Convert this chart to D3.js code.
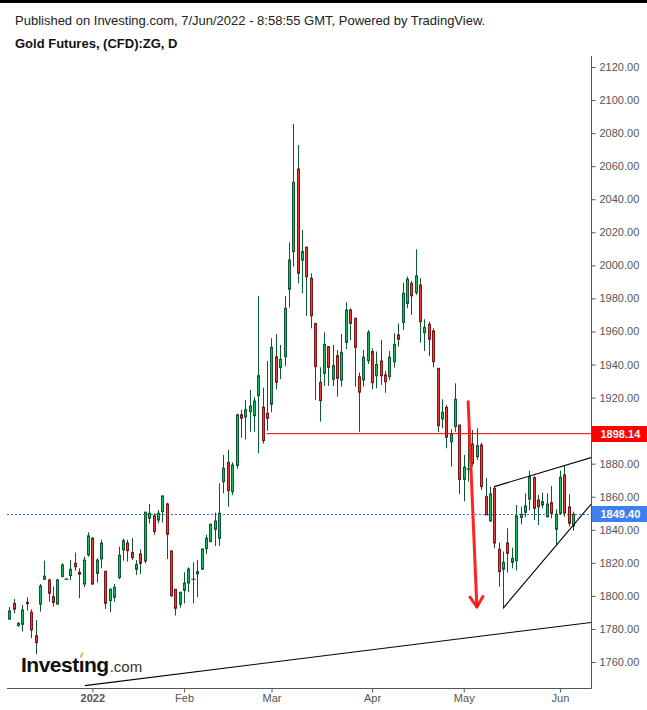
<!DOCTYPE html>
<html><head><meta charset="utf-8">
<script src="https://cdn.jsdelivr.net/npm/d3@7"></script>
<style>
body{margin:0;background:#fff}
svg{display:block}
text{font-family:Arial,"Liberation Sans",Helvetica,sans-serif}
</style>
</head><body>
<svg id="c" width="647" height="710"></svg>
<script>
// ---- data (daily OHLC, Gold Futures CFD, 7 Dec 2021 .. 6 Jun 2022) ----
const openP = [1786.0,1795.5,1782.0,1782.8,1796.1,1790.1,1775.9,1795.0,1810.1,1809.6,
1799.5,1795.0,1811.7,1810.1,1812.3,1819.7,1814.3,1807.2,1824.8,1834.9,
1813.6,1822.4,1814.9,1797.1,1799.2,1811.1,1827.8,1832.0,1826.2,1816.1,
1825.4,1821.1,1847.0,1848.4,1845.9,1851.0,1855.6,1827.2,1804.0,1795.0,
1803.3,1807.8,1810.1,1813.3,1816.1,1828.6,1832.8,1840.3,1834.9,1869.1,
1880.8,1863.1,1879.0,1909.6,1908.2,1911.5,1909.0,1921.1,1914.1,1910.5,
1915.9,1944.7,1938.3,1944.7,1985.5,2008.3,2058.3,2003.2,2011.0,1992.2,
1964.9,1929.2,1934.7,1950.8,1931.1,1945.3,1930.6,1953.4,1973.0,1968.0,
1932.5,1930.6,1942.3,1947.8,1933.2,1942.1,1933.7,1932.7,1941.7,1957.9,
1965.4,1977.0,1989.1,1983.5,1988.1,1959.3,1964.3,1960.3,1937.7,1907.1,
1914.1,1893.3,1902.4,1903.4,1870.5,1876.7,1891.9,1884.2,1891.3,1860.0,
1845.3,1865.1,1828.2,1816.1,1832.0,1820.3,1821.3,1847.4,1850.6,1858.6,
1871.5,1858.0,1855.0,1847.9,1856.4,1840.3,1850.0,1873.2,1853.8,1842.3];
const highP = [1793.3,1798.1,1784.2,1794.5,1799.2,1791.9,1785.4,1807.2,1821.3,1810.4,
1805.6,1810.4,1819.7,1810.6,1821.7,1826.2,1816.7,1823.7,1838.5,1835.5,
1822.7,1834.0,1814.9,1804.6,1807.2,1829.8,1834.6,1834.0,1835.0,1821.7,
1828.2,1851.0,1855.6,1850.0,1852.0,1860.5,1856.4,1827.2,1804.0,1802.2,
1814.3,1817.3,1820.3,1821.7,1828.4,1836.9,1843.4,1850.4,1868.1,1885.3,
1888.3,1880.8,1910.2,1912.6,1918.5,1924.6,1920.2,1981.5,1926.0,1942.1,
1955.9,1958.4,1951.8,1981.5,2013.9,2085.5,2072.8,2021.4,2011.0,1995.2,
1964.9,1938.3,1959.5,1950.8,1951.8,1948.8,1958.4,1977.6,1974.0,1968.0,
1935.1,1948.8,1960.9,1949.8,1947.8,1954.8,1936.1,1948.2,1958.9,1964.9,
1989.5,1993.1,1990.5,2009.7,1992.2,1967.4,1965.9,1961.9,1937.7,1918.9,
1915.5,1900.8,1928.6,1903.4,1885.3,1901.4,1900.4,1901.4,1892.7,1871.5,
1866.1,1866.5,1832.2,1826.8,1840.9,1829.2,1855.0,1854.0,1862.1,1875.8,
1872.6,1861.1,1862.5,1862.1,1866.5,1852.4,1875.8,1878.6,1861.5,1851.0];
const lowP = [1785.4,1789.5,1781.4,1778.4,1791.1,1774.4,1764.7,1790.5,1809.6,1796.5,
1793.5,1795.0,1811.3,1809.6,1809.6,1815.3,1798.6,1805.3,1823.7,1806.6,
1808.0,1816.7,1792.1,1790.1,1796.5,1810.1,1821.3,1820.7,1821.7,1812.7,
1813.3,1819.7,1843.9,1836.9,1843.9,1844.3,1822.3,1799.5,1788.1,1792.9,
1795.5,1802.2,1795.5,1799.2,1816.1,1825.2,1832.8,1830.2,1830.2,1862.1,
1854.0,1861.0,1877.0,1895.6,1894.6,1899.3,1899.3,1886.3,1892.2,1899.9,
1911.1,1925.0,1931.1,1939.1,1974.4,1999.2,1989.1,1983.1,1969.5,1961.9,
1918.5,1905.4,1927.0,1927.0,1927.0,1920.5,1926.6,1949.3,1954.8,1926.6,
1899.3,1926.6,1940.3,1925.0,1925.6,1927.6,1922.9,1930.6,1938.1,1950.8,
1960.9,1974.0,1970.0,1982.1,1953.2,1948.2,1945.0,1938.3,1899.0,1901.4,
1889.3,1878.2,1899.3,1861.5,1857.2,1869.1,1878.2,1882.2,1864.1,1849.0,
1844.9,1828.8,1805.6,1792.5,1814.1,1816.7,1815.3,1843.3,1847.6,1851.9,
1845.9,1842.9,1853.0,1847.3,1847.0,1831.0,1849.0,1848.0,1841.9,1839.5];
const closeP = [1790.9,1791.9,1783.4,1791.5,1795.3,1779.4,1771.7,1806.0,1811.9,1801.6,
1796.1,1809.6,1818.7,1810.1,1816.1,1817.7,1813.1,1821.7,1836.3,1807.2,
1821.7,1832.0,1795.5,1804.0,1805.2,1824.6,1833.4,1827.4,1823.1,1819.1,
1819.7,1850.6,1850.0,1838.9,1850.0,1860.5,1837.3,1800.1,1792.5,1802.2,
1807.8,1816.3,1810.1,1814.7,1828.4,1834.9,1843.4,1845.3,1850.0,1877.2,
1863.7,1879.2,1909.6,1907.5,1912.6,1914.9,1917.9,1933.2,1894.0,1907.5,
1950.4,1929.2,1943.1,1974.0,2003.2,2050.2,1995.2,2008.3,1993.1,1969.5,
1938.7,1918.2,1952.2,1938.3,1939.3,1931.7,1947.4,1973.0,1964.9,1950.4,
1923.3,1944.4,1959.5,1929.0,1940.1,1933.2,1929.6,1944.4,1952.2,1955.3,
1983.1,1991.6,1981.6,1993.6,1965.9,1962.5,1955.3,1941.7,1903.0,1911.1,
1896.0,1897.8,1918.9,1870.5,1877.9,1876.7,1880.2,1890.9,1866.1,1849.0,
1861.7,1832.0,1814.7,1820.3,1825.8,1822.7,1848.4,1849.4,1854.4,1872.1,
1853.0,1854.0,1857.0,1855.6,1850.0,1849.4,1871.8,1850.2,1843.9,1849.4];

const priceTicks = [1760,1780,1800,1820,1840,1860,1880,1900,1920,1940,1960,1980,2000,2020,2040,2060,2080,2100,2120];
const monthLabels = ["2022","Feb","Mar","Apr","May","Jun"];
const supportLevel = 1898.14;       // horizontal line + red tag
const supportStart = 59.85;         // bar index where the line starts
const lastPrice = 1849.40;          // blue dashed line + tag
// drawn lines as [bar index, price] pairs
const trendLines = [
  [[18.3, 1745.7], [134.3, 1784.0]],
  [[112, 1866.1], [134.3, 1883.8]],
  [[114, 1792.5], [134.3, 1856.0]]
];
const arrowPts = [[106, 1917.5], [108, 1793.3]];

// ---- layout ----
const svg = d3.select("#c");
const plot = {left: 7, right: 591, top: 56, bottom: 688};
const n = closeP.length;

// trading days (weekdays) for the bar index
const dates = [];
for (let d = new Date(2021, 11, 7); dates.length < n; d = d3.timeDay.offset(d, 1)) {
  if (d.getDay() % 6 !== 0) dates.push(new Date(d));
}
const x = d3.scaleLinear().domain([1, n]).range([9.3, 573.0]);
const y = d3.scaleLinear().domain([1760, 2120]).range([662, 67]);

svg.append("rect").attr("width", 647).attr("height", 710).attr("fill", "#fff");
svg.append("rect").attr("width", 647).attr("height", 3).attr("fill", "#000");

// header
svg.append("text").attr("x", 15).attr("y", 25).attr("font-size", 13).attr("fill", "#222")
  .text("Published on Investing.com, 7/Jun/2022 - 8:58:55 GMT, Powered by TradingView.");
svg.append("text").attr("x", 15).attr("y", 47.5).attr("font-size", 13).attr("font-weight", "bold").attr("fill", "#111")
  .text("Gold Futures, (CFD):ZG, D");

svg.append("defs").append("clipPath").attr("id", "pc").append("rect")
  .attr("x", plot.left).attr("y", plot.top)
  .attr("width", plot.right - plot.left).attr("height", plot.bottom - plot.top);

const g = svg.append("g").attr("clip-path", "url(#pc)");

// last price dashed line
const yLast = Math.round(y(lastPrice)) + 0.5;
g.append("line").attr("x1", plot.left).attr("x2", plot.right)
  .attr("y1", yLast).attr("y2", yLast)
  .attr("stroke", "#2f6fea").attr("stroke-width", 1).attr("stroke-dasharray", "2,2");

// candles
const bars = d3.range(n).map(i => ({i: i + 1, o: openP[i], h: highP[i], l: lowP[i], c: closeP[i]}));
const wickCol = "#0b5a34";
const cg = g.append("g");
bars.forEach(b => {
  const X = Math.round(x(b.i)) - 1;
  cg.append("line").attr("x1", X + 1.5).attr("x2", X + 1.5)
    .attr("y1", y(b.h)).attr("y2", y(b.l)).attr("stroke", wickCol).attr("stroke-width", 1);
  if (b.o === b.c) {
    cg.append("line").attr("x1", X - 0.5).attr("x2", X + 3.5)
      .attr("y1", y(b.c)).attr("y2", y(b.c)).attr("stroke", wickCol).attr("stroke-width", 1.2);
  } else {
    const up = b.c > b.o;
    const top = y(Math.max(b.o, b.c)), bot = y(Math.min(b.o, b.c));
    cg.append("rect").attr("x", X + 0.5).attr("width", 2)
      .attr("y", top).attr("height", Math.max(1, bot - top))
      .attr("fill", up ? "#12bf5e" : "#e5403a")
      .attr("stroke", up ? "#0b5a34" : "#7c1616").attr("stroke-width", 1);
  }
});

// support horizontal line
const ySup = y(supportLevel);
g.append("line").attr("x1", x(supportStart)).attr("x2", plot.right)
  .attr("y1", ySup).attr("y2", ySup).attr("stroke", "#e00000").attr("stroke-width", 1);

// trend lines
const line = d3.line().x(p => x(p[0])).y(p => y(p[1]));
trendLines.forEach(t => {
  g.append("path").attr("d", line(t)).attr("fill", "none")
    .attr("stroke", "#000").attr("stroke-width", 1.1);
});

// red arrow
const a0 = [x(arrowPts[0][0]), y(arrowPts[0][1])];
const a1 = [x(arrowPts[1][0]), y(arrowPts[1][1])];
g.append("path").attr("d", line(arrowPts)).attr("fill", "none")
  .attr("stroke", "#ff1010").attr("stroke-width", 3).attr("stroke-linecap", "round").attr("opacity", 0.92);
const ang = Math.atan2(a1[1] - a0[1], a1[0] - a0[0]);
const headLen = 12, spread = Math.PI / 5.5;
const h1 = [a1[0] - headLen * Math.cos(ang - spread), a1[1] - headLen * Math.sin(ang - spread)];
const h2 = [a1[0] - headLen * Math.cos(ang + spread), a1[1] - headLen * Math.sin(ang + spread)];
g.append("path").attr("d", d3.line()([h1, a1, h2])).attr("fill", "none")
  .attr("stroke", "#ff1010").attr("stroke-width", 3).attr("stroke-linecap", "round").attr("stroke-linejoin", "round").attr("opacity", 0.92);

// axes
const axCol = "#555";
svg.append("line").attr("x1", plot.right + 0.5).attr("x2", plot.right + 0.5)
  .attr("y1", plot.top).attr("y2", plot.bottom + 0.5).attr("stroke", axCol);
svg.append("line").attr("x1", plot.left).attr("x2", plot.right + 0.5)
  .attr("y1", plot.bottom + 0.5).attr("y2", plot.bottom + 0.5).attr("stroke", axCol);

// labels hidden behind the price tags are not drawn (as in the reference)
const tagLevels = [supportLevel, lastPrice];
const shownTicks = priceTicks.filter(v => tagLevels.every(t => Math.abs(y(v) - y(t)) > 12));
const yAxis = svg.append("g").attr("transform", `translate(${plot.right + 0.5},0)`)
  .call(d3.axisRight(y).tickValues(shownTicks).tickFormat(d3.format(".2f")).tickSize(4).tickPadding(4));
yAxis.select(".domain").remove();
yAxis.selectAll("line").attr("stroke", axCol);
yAxis.selectAll("text").attr("fill", "#555").attr("font-size", 11)
  .attr("font-family", "Arial, 'Liberation Sans', sans-serif");

// month ticks: first trading day of each month after the first
const monthIdx = [];
for (let i = 1; i < n; i++) if (dates[i].getMonth() !== dates[i - 1].getMonth()) monthIdx.push(i + 1);
const xAxis = svg.append("g").attr("transform", `translate(0,${plot.bottom + 0.5})`)
  .call(d3.axisBottom(x).tickValues(monthIdx).tickFormat((d, k) => monthLabels[k]).tickSize(4).tickPadding(2));
xAxis.select(".domain").remove();
xAxis.selectAll("line").attr("stroke", axCol);
xAxis.selectAll("text").attr("fill", "#555").attr("font-size", 11)
  .attr("font-family", "Arial, 'Liberation Sans', sans-serif")
  .attr("font-weight", (d, k) => k === 0 ? "bold" : "normal");

// price tags
function tag(v, col, txt) {
  const cy = y(v);
  svg.append("rect").attr("x", plot.right + 1).attr("y", Math.round(cy) - 8)
    .attr("width", 647 - plot.right - 1).attr("height", 16).attr("fill", col);
  svg.append("text").attr("x", 600.5).attr("y", cy).attr("dy", "0.35em")
    .attr("font-size", 11).attr("font-weight", "bold").attr("fill", "#fff").text(txt);
}
tag(supportLevel, "#ff0000", d3.format(".2f")(supportLevel));
tag(lastPrice, "#3f7fee", d3.format(".2f")(lastPrice));

// Investing.com logo
const logo = svg.append("text").attr("x", 21).attr("y", 672).attr("fill", "#111");
logo.append("tspan").attr("font-size", 21).attr("font-weight", "bold").attr("letter-spacing", "-0.5").text("Invest");
logo.append("tspan").attr("font-size", 21).attr("font-weight", "bold").attr("letter-spacing", "-0.5").text("\u0131");
logo.append("tspan").attr("font-size", 21).attr("font-weight", "bold").attr("letter-spacing", "-0.5").text("ng");
logo.append("tspan").attr("font-size", 15).attr("fill", "#333").attr("dx", 1).text(".com");
try {
  const node = logo.node();
  const pre = node.getSubStringLength(0, 6);
  const iw = node.getSubStringLength(6, 1);
  const dx = 21 + pre + iw / 2 - 0.3;
  svg.append("path")
    .attr("d", `M${dx - 1.2},${657.5} L${dx + 0.6},${657.5} L${dx + 2.4},${652.5} L${dx + 0.6},${652.5} Z`)
    .attr("fill", "#f5a01a");
} catch (e) {}
</script>
</body></html>
